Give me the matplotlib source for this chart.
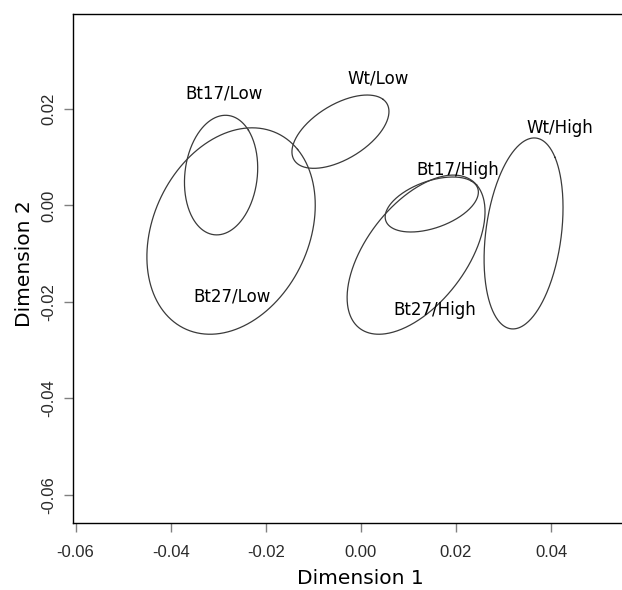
import numpy as np
import matplotlib
matplotlib.use("Agg")
import matplotlib.pyplot as plt

plt.rcParams['axes.unicode_minus'] = False

# ellipse parameters (data units)
groups = ['Bt17/Low', 'Bt27/Low', 'Wt/Low', 'Bt17/High', 'Bt27/High', 'Wt/High']
center_x = [-0.0294, -0.0273, -0.0043, 0.0149, 0.0116, 0.0342]
center_y = [0.0063, -0.0053, 0.0153, 0.0002, -0.0102, -0.0058]
half_x = [0.0077, 0.0177, 0.0102, 0.0098, 0.0145, 0.0083]
half_y = [0.0124, 0.0214, 0.0076, 0.0057, 0.0165, 0.0198]
corr = [0.12, 0.25, 0.55, 0.45, 0.54, 0.27]

# label positions
label_x = [-0.0288, -0.0271, 0.0036, 0.0204, 0.0156, 0.0419]
label_y = [0.0233, -0.0188, 0.0264, 0.0074, -0.0217, 0.0161]

x_ticks = [-0.06, -0.04, -0.02, 0.00, 0.02, 0.04]
y_ticks = [-0.06, -0.04, -0.02, 0.00, 0.02]

fig = plt.figure(figsize=(6.22, 5.90), dpi=100)
ax = fig.add_axes([72.7 / 622, 66.7 / 590, (622 - 72.7) / 622, 509.3 / 590])

# ellipses drawn like R's ellipse(): x = cx + sx*cos(a + d/2), y = cy + sy*cos(a - d/2)
a = np.linspace(0, 2 * np.pi, 400)
for cx, cy, sx, sy, r in zip(center_x, center_y, half_x, half_y, corr):
    d = np.arccos(r)
    ax.plot(cx + sx * np.cos(a + d / 2), cy + sy * np.cos(a - d / 2),
            color='#3a3a3a', lw=0.9)

for name, lx, ly in zip(groups, label_x, label_y):
    ax.text(lx, ly, name, ha='center', va='center', fontsize=12,
            family='DejaVu Sans', color='black')

ax.set_xlim(-0.0606, 0.0549)
ax.set_ylim(-0.0659, 0.0397)
ax.set_xticks(x_ticks)
ax.set_yticks(y_ticks)
ax.set_xticklabels(['%.2f' % v for v in x_ticks], family='Liberation Sans', fontsize=12, color='#2a2a2a')
ax.set_yticklabels(['%.2f' % v for v in y_ticks], family='Liberation Sans', fontsize=12, color='#2a2a2a',
                   rotation=90, va='center')
ax.tick_params(axis='both', direction='out', length=6.5, width=1, color='#808080')
ax.tick_params(axis='x', pad=9)
ax.tick_params(axis='y', pad=5)

ax.spines['right'].set_visible(False)
for s in ['left', 'top', 'bottom']:
    ax.spines[s].set_color('black')
    ax.spines[s].set_linewidth(1)

ax.set_xlabel('Dimension 1', fontsize=14.5, family='DejaVu Sans', va='center')
ax.set_ylabel('Dimension 2', fontsize=14.5, family='DejaVu Sans', va='center')
ax.xaxis.set_label_coords(0.523, -0.108)
ax.yaxis.set_label_coords(-0.087, 0.509)

fig.savefig('out.png', dpi=100)
